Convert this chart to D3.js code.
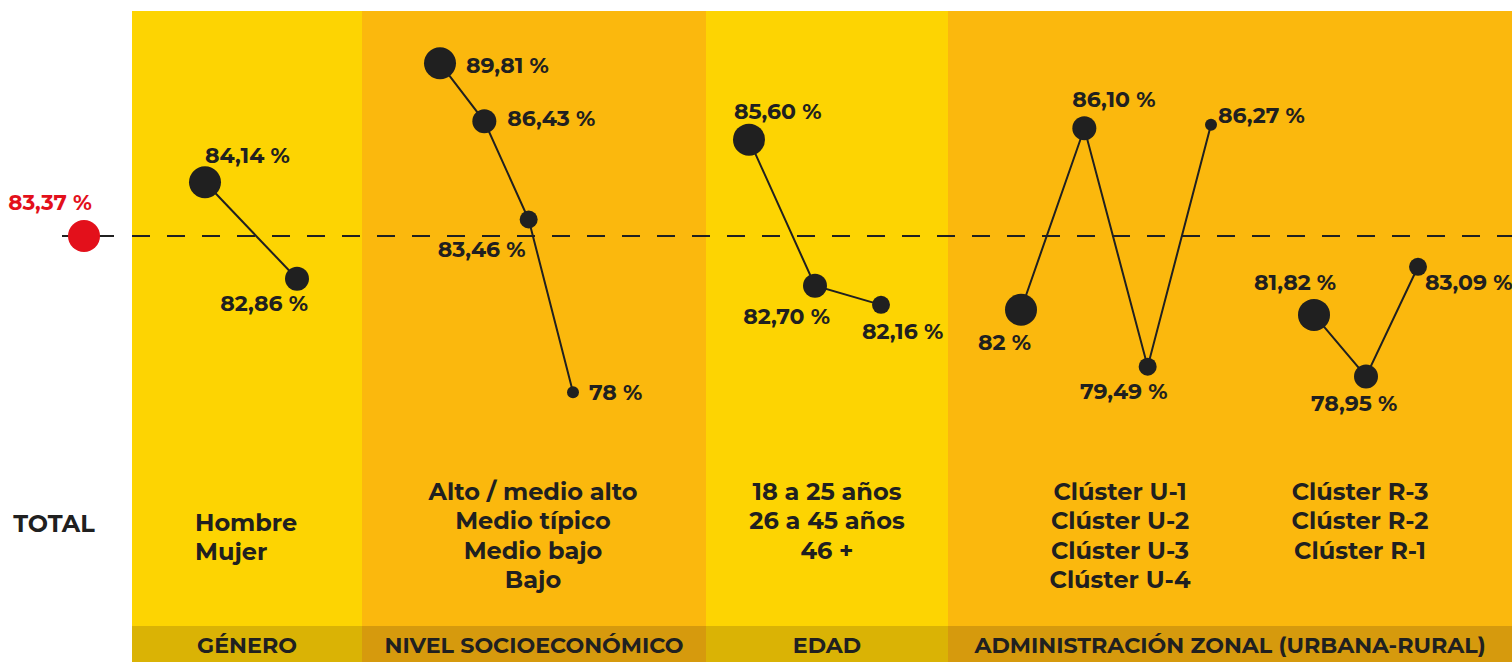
<!DOCTYPE html>
<html><head><meta charset="utf-8">
<script src="https://cdn.jsdelivr.net/npm/d3@7"></script>
<style>
html,body{margin:0;padding:0;background:#fff;}
svg{display:block;}
text{font-family:"Montserrat","Inter","Open Sans",sans-serif;}
</style></head>
<body>
<svg id="chart" width="1512" height="662"></svg>
<script>
// ---------- DATA ----------
const totalLabel = "TOTAL";
const totalValue = 83.37;
const panelTitles = ["GÉNERO", "NIVEL SOCIOECONÓMICO", "EDAD", "ADMINISTRACIÓN ZONAL (URBANA-RURAL)"];
const generoCats = ["Hombre", "Mujer"];
const generoVals = [84.14, 82.86];
const nseCats = ["Alto / medio alto", "Medio típico", "Medio bajo", "Bajo"];
const nseVals = [89.81, 86.43, 83.46, 78];
const edadCats = ["18 a 25 años", "26 a 45 años", "46 +"];
const edadVals = [85.60, 82.70, 82.16];
const urbanaCats = ["Clúster U-1", "Clúster U-2", "Clúster U-3", "Clúster U-4"];
const urbanaVals = [82, 86.10, 79.49, 86.27];
const ruralCats = ["Clúster R-3", "Clúster R-2", "Clúster R-1"];
const ruralVals = [81.82, 78.95, 83.09];

// ---------- LAYOUT / STYLE ----------
const W = 1512, H = 662;
const panelEdges = [132, 362, 706, 948, 1512];
const panelFill = ["#FDD402", "#FBB80D", "#FDD402", "#FBB80D"];
const barFill = ["#DAB305", "#D69A0D", "#DAB305", "#D69A0D"];
const panelTop = 11, barTop = 626;
const ink = "#202020", red = "#E3101B";
const radii = [16, 12, 9, 6];
const totalY = 236;

const series = [
  {cats: generoCats, vals: generoVals, xr: [205, 297], labelX: 195, anchor: "start", line0: 522,
   lab: [[0, -19, "start"], [11, 32, "end"]]},
  {cats: nseCats, vals: nseVals, xr: [440, 573], labelX: 533, anchor: "middle", line0: 491,
   lab: [[26, 10, "start"], [23, 5, "start"], [-3, 37, "end"], [16, 8, "start"]]},
  {cats: edadCats, vals: edadVals, xr: [749, 881], labelX: 827, anchor: "middle", line0: 491,
   lab: [[-15, -21, "start"], [15, 38, "end"], [-19, 34, "start"]]},
  {cats: urbanaCats, vals: urbanaVals, xr: [1021, 1211], labelX: 1120, anchor: "middle", line0: 491,
   lab: [[10, 40, "end"], [-12, -21, "start"], [20, 32, "end"], [7, -2, "start"]]},
  {cats: ruralCats, vals: ruralVals, xr: [1314, 1418], labelX: 1360, anchor: "middle", line0: 491,
   lab: [[-60, -25, "start"], [-55, 35, "start"], [7, 23, "start"]]}
];

const loc = d3.formatLocale({decimal: ",", thousands: ".", grouping: [3], currency: ["", "€"]});
const fmt = v => (Number.isInteger(v) ? loc.format("d")(v) : loc.format(".2f")(v)) + " %";

// y scale: deviation from total -> vertical position (compressive power scale, total line at totalY)
const k = 62, e = 0.55, dMax = 7;
const span = k * Math.pow(dMax, e);
const yDev = d3.scalePow().exponent(e).domain([-dMax, dMax]).range([totalY + span, totalY - span]);
const y = v => yDev(v - totalValue);

const svg = d3.select("#chart");

// panels
svg.selectAll("rect.panel").data(panelTitles).join("rect")
  .attr("x", (d, i) => panelEdges[i]).attr("y", panelTop)
  .attr("width", (d, i) => panelEdges[i + 1] - panelEdges[i]).attr("height", H - panelTop)
  .attr("fill", (d, i) => panelFill[i]);
svg.selectAll("rect.bar").data(panelTitles).join("rect")
  .attr("x", (d, i) => panelEdges[i]).attr("y", barTop)
  .attr("width", (d, i) => panelEdges[i + 1] - panelEdges[i]).attr("height", H - barTop)
  .attr("fill", (d, i) => barFill[i]);
svg.selectAll("text.ptitle").data(panelTitles).join("text")
  .attr("x", (d, i) => (panelEdges[i] + panelEdges[i + 1]) / 2).attr("y", 653)
  .attr("text-anchor", "middle").attr("font-size", 22.2).attr("font-weight", 700)
  .attr("fill", ink).text(d => d);

// total dashed line
svg.append("line").attr("x1", 62).attr("x2", 114).attr("y1", y(totalValue)).attr("y2", y(totalValue))
  .attr("stroke", ink).attr("stroke-width", 2);
svg.append("line").attr("x1", 132).attr("x2", W).attr("y1", y(totalValue)).attr("y2", y(totalValue))
  .attr("stroke", ink).attr("stroke-width", 2).attr("stroke-dasharray", "18 17");
svg.append("circle").attr("cx", 84).attr("cy", y(totalValue)).attr("r", 16).attr("fill", red);
svg.append("text").attr("x", 50).attr("y", y(totalValue) - 26).attr("text-anchor", "middle")
  .attr("font-size", 21.5).attr("font-weight", 700).attr("fill", red).text(fmt(totalValue));
svg.append("text").attr("x", 54).attr("y", 532).attr("text-anchor", "middle")
  .attr("font-size", 24).attr("font-weight", 700).attr("fill", ink).text(totalLabel);

// series
series.forEach(s => {
  const x = d3.scalePoint().domain(s.cats).range(s.xr);
  const pts = s.cats.map((c, i) => ({c, v: s.vals[i], i}));
  const g = svg.append("g");
  g.append("path").datum(pts)
    .attr("d", d3.line().x(d => x(d.c)).y(d => y(d.v)))
    .attr("fill", "none").attr("stroke", ink).attr("stroke-width", 2);
  g.selectAll("circle").data(pts).join("circle")
    .attr("cx", d => x(d.c)).attr("cy", d => y(d.v)).attr("r", d => radii[d.i]).attr("fill", ink);
  g.selectAll("text.val").data(pts).join("text")
    .attr("x", d => x(d.c) + s.lab[d.i][0]).attr("y", d => y(d.v) + s.lab[d.i][1])
    .attr("text-anchor", d => s.lab[d.i][2])
    .attr("font-size", 22).attr("font-weight", 700).attr("fill", ink).text(d => fmt(d.v));
  g.selectAll("text.cat").data(s.cats).join("text")
    .attr("x", s.labelX).attr("y", (d, i) => s.line0 + 8.5 + i * 29.5)
    .attr("text-anchor", s.anchor)
    .attr("font-size", 24).attr("font-weight", 700).attr("fill", ink).text(d => d);
});
</script>
</body></html>
